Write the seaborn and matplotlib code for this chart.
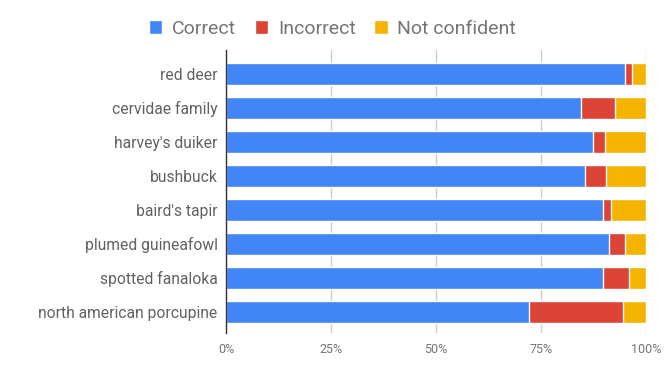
import pandas as pd
import matplotlib.pyplot as plt
import seaborn as sns
from matplotlib.patches import Patch
from matplotlib.ticker import PercentFormatter

# data (percent of images)
species = ['red deer', 'cervidae family', "harvey's duiker", 'bushbuck',
           "baird's tapir", 'plumed guineafowl', 'spotted fanaloka',
           'north american porcupine']
correct = [95.1, 84.5, 87.3, 85.4, 89.7, 91.1, 89.8, 72.1]
incorrect = [1.5, 8.0, 2.9, 5.0, 1.9, 3.8, 6.1, 22.4]
not_confident = [3.4, 7.5, 9.8, 9.6, 8.4, 5.1, 4.1, 5.5]

series_names = ['Correct', 'Incorrect', 'Not confident']
colors = ['#4285f4', '#db4437', '#f4b400']

df = pd.DataFrame({'species': species, 'Correct': correct,
                   'Incorrect': incorrect, 'Not confident': not_confident})
df['upto_incorrect'] = df['Correct'] + df['Incorrect']
df['total'] = df['upto_incorrect'] + df['Not confident']

sns.set_style('white')
plt.rcParams['font.family'] = ['Roboto', 'DejaVu Sans']

fig = plt.figure(figsize=(6.65, 3.71), dpi=100)
ax = fig.add_axes([226 / 665, 38 / 371, 420 / 665, 283 / 371])

# stacked bars: draw cumulative totals back to front
for col, c in zip(['total', 'upto_incorrect', 'Correct'], colors[::-1]):
    sns.barplot(data=df, x=col, y='species', color=c, width=0.64,
                orient='h', ax=ax, saturation=1)

ax.set_xlim(0, 100)
ax.set_ylim(7.62, -0.7)
ax.xaxis.set_major_formatter(PercentFormatter(decimals=0))
ax.set_xticks([0, 25, 50, 75, 100])
ax.grid(axis='x', color='#cccccc', linewidth=1)
ax.set_axisbelow(True)
ax.set_xlabel('')
ax.set_ylabel('')

for s in ['top', 'right', 'bottom']:
    ax.spines[s].set_visible(False)
ax.spines['left'].set_color('#333333')
ax.spines['left'].set_linewidth(1)

ax.tick_params(axis='x', length=0, labelsize=9, labelcolor='#757575', pad=7)
ax.tick_params(axis='y', length=0, labelsize=11.25, labelcolor='#616161', pad=6)

handles = [Patch(facecolor=c, label=n) for c, n in zip(colors, series_names)]
fig.legend(handles=handles, loc='center', bbox_to_anchor=(0.5, 1 - 29 / 371),
           ncol=3, frameon=False, fontsize=14, labelcolor='#757575',
           handlelength=0.7, handleheight=0.7, handletextpad=0.5,
           columnspacing=0.95)

fig.savefig('out.png', dpi=100)
